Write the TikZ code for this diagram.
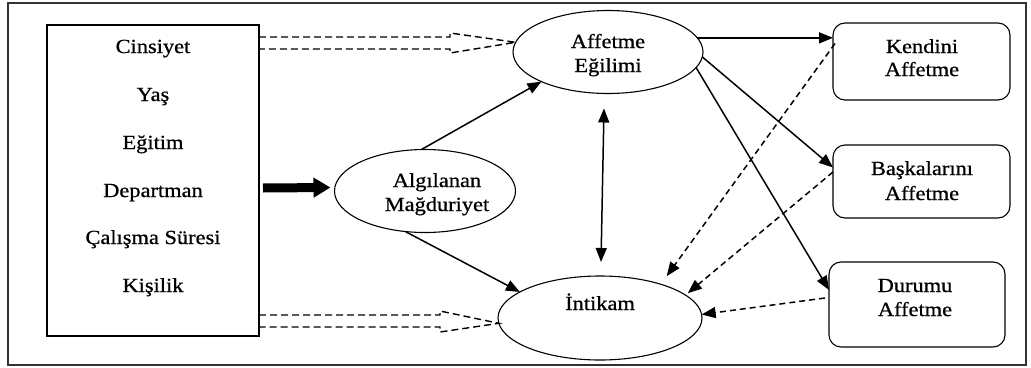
\documentclass[tikz,border=0pt]{standalone}
\usepackage{fontspec}
\setmainfont{Liberation Serif}[FakeStretch=1.12,FakeBold=0.8]
\usetikzlibrary{shapes.geometric,arrows.meta,calc}
\begin{document}
\begin{tikzpicture}[x=1pt,y=-1pt,
  every node/.style={font=\fontsize{20}{24}\selectfont, inner sep=0pt, outer sep=0pt},
  ell/.style={draw, ellipse, line width=1.1pt},
  rbox/.style={draw, rounded corners=12pt, line width=1.1pt},
  lbl/.style={anchor=base},
  tip/.tip={Triangle[length=14pt,width=11pt]},
  arr/.style={line width=1.5pt, -tip},
  darr/.style={arr, dash pattern=on 6pt off 4pt},
  hollow/.style={line width=1.4pt, dash pattern=on 7pt off 4pt}
]
\useasboundingbox (0,0) rectangle (1031,367);
\draw[line width=1.5pt, black!80] (8,3) rectangle (1026,365);

% left box
\node[draw, line width=1.4pt, minimum width=212pt, minimum height=311pt] (vars) at (153,180.5) {};
\node[lbl] (t1) at (153,53) {Cinsiyet};
\node[lbl] (t2) at (153,101) {Yaş};
\node[lbl] (t3) at (153,149) {Eğitim};
\node[lbl] (t4) at (153,197) {Departman};
\node[lbl] (t5) at (153,244) {Çalışma Süresi};
\node[lbl] (t6) at (153,292) {Kişilik};

% ellipses
\node[ell, minimum width=181pt, minimum height=83pt] (alg) at (425,191) {};
\node[lbl] (alg1) at (437,187) {Algılanan};
\node[lbl] (alg2) at (437,211) {Mağduriyet};

\node[ell, minimum width=190pt, minimum height=83pt] (aff) at (608,52) {};
\node[lbl] (aff1) at (608,48) {Affetme};
\node[lbl] (aff2) at (608,72) {Eğilimi};

\node[ell, minimum width=204pt, minimum height=84pt] (int) at (600,318) {};
\node[lbl] (int1) at (600,310) {İntikam};

% right boxes
\node[rbox, minimum width=177pt, minimum height=77pt] (ken) at (921.5,61.5) {};
\node[lbl] (ken1) at (922,53) {Kendini};
\node[lbl] (ken2) at (922,76) {Affetme};

\node[rbox, minimum width=177pt, minimum height=73pt] (bas) at (921.5,181.5) {};
\node[lbl] (bas1) at (922,175) {Başkalarını};
\node[lbl] (bas2) at (922,200) {Affetme};

\node[rbox, minimum width=176pt, minimum height=85pt] (dur) at (917,304.5) {};
\node[lbl] (dur1) at (915,292) {Durumu};
\node[lbl] (dur2) at (915,316) {Affetme};

% thick arrow
\draw[line width=9pt, -{Triangle[length=17pt,width=19pt]}] ($(vars.east)+(4,7.5)$) -- ($(alg.west)+(-4,-3.5)$);

% hollow dashed arrows
\draw[hollow] ($(vars.north east)+(0,12)$) -- (450,37) -- (450,33) -- (aff.174) -- (450,53) -- (450,49) -- ($(vars.north east)+(0,24)$);
\draw[hollow] ($(vars.south east)+(0,-21)$) -- (440,315) -- (440,311) -- (int.183) -- (440,332) -- (440,327) -- ($(vars.south east)+(0,-9)$);

% solid arrows
\draw[arr] (alg.95) -- (aff.204);
\draw[arr] (alg.244) -- (int.162);
\draw[line width=1.5pt, tip-tip] ($(aff.south)+(-4,15)$) -- ($(int.north)+(1,-14)$);
\draw[arr] (aff.9) -- (aff.9 -| ken.west);
\draw[arr] (aff.-3) -- ([yshift=14pt]bas.west);
\draw[arr] (aff.-10) -- ([yshift=14.5pt]dur.west);

% dashed arrows
\draw[darr, shorten >=10pt] ([xshift=2pt,yshift=18pt]ken.west) -- (int.29);
\draw[darr, shorten >=3pt] ([yshift=9.5pt]bas.west) -- (int.15);
\draw[darr] ([xshift=-4pt,yshift=6.5pt]dur.west) -- (int.2);
\end{tikzpicture}
\end{document}
